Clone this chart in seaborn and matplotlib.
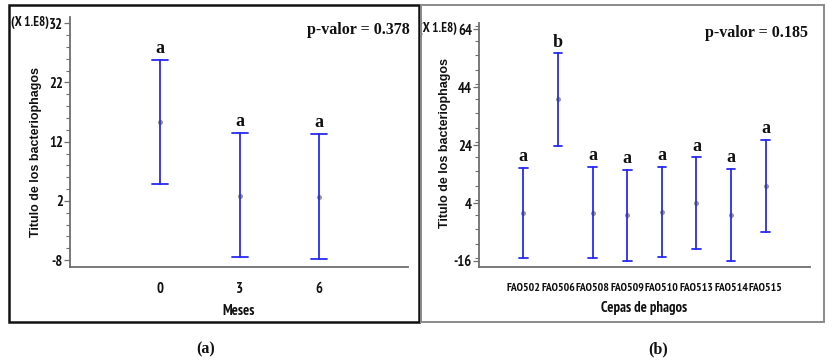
import matplotlib
matplotlib.use("Agg")
import matplotlib.pyplot as plt
import matplotlib.patches as mpatches
from matplotlib import font_manager
from matplotlib.ticker import MultipleLocator
import pandas as pd
import seaborn as sns

# ---------------- data ----------------
meses = ["0", "3", "6"]
meses_mean = [15.3, 2.9, 2.7]
meses_low = [4.9, -7.5, -7.8]
meses_high = [25.8, 13.5, 13.35]
meses_letters = ["a", "a", "a"]
meses_yticks = [-8, 2, 12, 22, 32]

cepas = ["FAO502", "FAO506", "FAO508", "FAO509", "FAO510", "FAO513", "FAO514", "FAO515"]
cepas_mean = [0.6, 39.8, 0.7, 0.0, 0.9, 4.0, 0.0, 9.9]
cepas_low = [-15.1, 23.8, -15.1, -16.0, -14.8, -11.95, -16.0, -6.1]
cepas_high = [16.2, 55.7, 16.6, 15.55, 16.6, 19.9, 15.8, 25.9]
cepas_letters = ["a", "b", "a", "a", "a", "a", "a", "a"]
cepas_yticks = [-16, 4, 24, 44, 64]

pval_a = "p-valor = 0.378"
pval_b = "p-valor = 0.185"
ylabel = "Titulo de los bacteriophagos"
scale_txt = "(X 1.E8)"

# pick a condensed sans family that has a bold face
bold_fams = {f.name for f in font_manager.fontManager.ttflist
             if (f.weight in (600, 700, 800, "bold", "semibold"))}
NARROW = "Liberation Sans"
for cand in ["Liberation Sans Narrow", "Arial Narrow", "Archivo Narrow",
             "PT Sans Narrow", "Roboto Condensed", "Asap Condensed",
             "Open Sans Condensed", "Barlow Semi Condensed", "Barlow Condensed"]:
    if cand in bold_fams:
        NARROW = cand
        break
SANS = "Liberation Sans"
SERIF = "Liberation Serif"

sns.set_theme(style="white")
plt.rcParams["font.family"] = [SANS, "DejaVu Sans"]
plt.rcParams["axes.unicode_minus"] = False

fig = plt.figure(figsize=(8.36, 3.61), dpi=100)

BLUE = "#2a2af5"
DOT = "#9a9a70"
SPINE = "#6e6e6e"
INK = "#111111"


def panel(rect, cats, mean, low, high, letters, yticks, ylim, minor, xlim,
          xlabel, pval, pos_p, capsize, tick_fs, ylab_pos, scale_pos):
    ax = fig.add_axes(rect)
    rows = []
    for c, m, lo, hi in zip(cats, mean, low, high):
        for v in (lo, m, hi):
            rows.append({"cat": c, "val": v})
    df = pd.DataFrame(rows)
    sns.pointplot(data=df, x="cat", y="val", order=cats, estimator="median",
                  errorbar=("pi", 100), linestyle="none", color=DOT,
                  markers="o", markersize=1.6, capsize=capsize,
                  err_kws={"color": BLUE, "linewidth": 1.3}, ax=ax)
    ax.set_ylim(*ylim)
    ax.set_xlim(*xlim)
    ax.set_yticks(yticks)
    ax.yaxis.set_minor_locator(MultipleLocator(minor))
    for s in ("top", "right"):
        ax.spines[s].set_visible(False)
    for s in ("left", "bottom"):
        ax.spines[s].set_color(SPINE)
        ax.spines[s].set_linewidth(1.3)
    ax.tick_params(axis="y", which="major", left=True, length=4, width=0.9,
                   color=SPINE, pad=1)
    ax.tick_params(axis="y", which="minor", left=True, length=3, width=0.8,
                   color=SPINE)
    ax.tick_params(axis="x", bottom=False, pad=5)
    for lab in ax.get_yticklabels():
        lab.set_fontfamily(NARROW)
        lab.set_fontweight("bold")
        lab.set_fontsize(10.5)
        lab.set_color(INK)
    for lab in ax.get_xticklabels():
        lab.set_fontfamily(NARROW)
        lab.set_fontweight("bold")
        lab.set_fontsize(tick_fs)
        lab.set_color(INK)
    ax.set_xlabel(xlabel, fontfamily=NARROW, fontweight="bold", fontsize=10.5,
                  color=INK, labelpad=6)
    ax.set_ylabel(ylabel, fontweight="bold", fontsize=9, color=INK)
    ax.yaxis.set_label_coords(*ylab_pos)
    off = (ylim[1] - ylim[0]) * 0.045
    for i, (hi, l) in enumerate(zip(high, letters)):
        ax.text(i, hi + off, l, ha="center", va="center", fontfamily=SERIF,
                fontweight="bold", fontsize=13, color=INK)
    ax.text(pos_p[0], pos_p[1], pval, transform=ax.transAxes, ha="right",
            va="center", fontfamily=SERIF, fontweight="bold", fontsize=11.5,
            color=INK, clip_on=False)
    ax.text(scale_pos[0], scale_pos[1], scale_txt, transform=ax.transAxes,
            ha="right", va="center", fontfamily=NARROW, fontweight="bold",
            fontsize=9.5, color=INK)
    return ax


ax1 = panel([70 / 836, 1 - 266.7 / 361, 338 / 836, 250 / 361],
            meses, meses_mean, meses_low, meses_high, meses_letters,
            meses_yticks, (-9.1, 33.1), 2, (-1.135, 3.12), "Meses", pval_a,
            (1.006, 0.947), 0.2, 10.5, (-0.083, 0.46), (-0.062, 0.975))

ax2 = panel([479 / 836, 1 - 267.3 / 361, 330.7 / 836, 244 / 361],
            cepas, cepas_mean, cepas_low, cepas_high, cepas_letters,
            cepas_yticks, (-18.2, 66.07), 5, (-1.28, 8.27), "Cepas de phagos",
            pval_b, (0.995, 0.96), 0.25, 8.5, (-0.085, 0.51), (-0.066, 0.977))

# panel borders
fig.add_artist(mpatches.Rectangle((9 / 836, 1 - 322 / 361), 410 / 836, 317 / 361,
                                  transform=fig.transFigure, fill=False,
                                  edgecolor=INK, linewidth=1.8))
fig.add_artist(mpatches.Rectangle((421 / 836, 1 - 322 / 361), 403 / 836, 317 / 361,
                                  transform=fig.transFigure, fill=False,
                                  edgecolor="#8a8a8a", linewidth=1.4))

fig.text(206 / 836, 1 - 349 / 361, "(a)", ha="center", va="center",
         fontfamily=SERIF, fontweight="bold", fontsize=11.5, color=INK)
fig.text(658 / 836, 1 - 349 / 361, "(b)", ha="center", va="center",
         fontfamily=SERIF, fontweight="bold", fontsize=11.5, color=INK)

fig.savefig("out.png", dpi=100, facecolor="white")
